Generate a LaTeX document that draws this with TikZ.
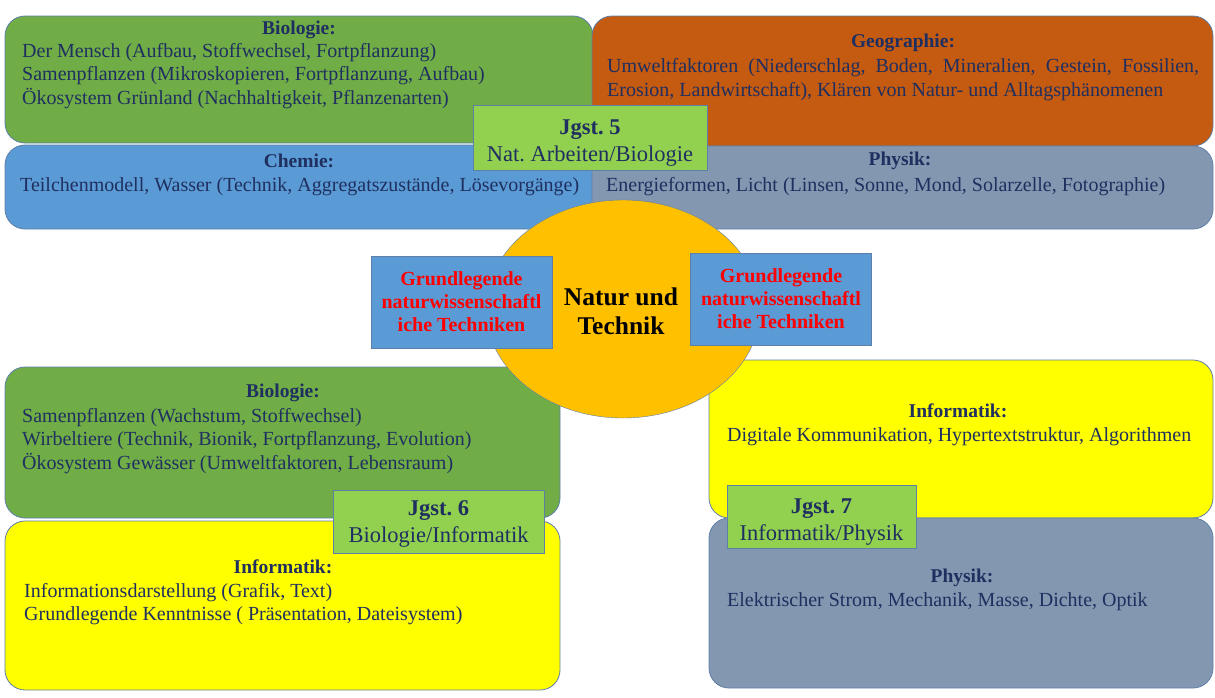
\documentclass[tikz,border=0pt]{standalone}
\usepackage{fontspec}
\setmainfont{Liberation Serif}
\usetikzlibrary{positioning,shapes.geometric}
\definecolor{biogruen}{HTML}{70AD47}
\definecolor{georot}{HTML}{C55A11}
\definecolor{chemblau}{HTML}{5B9BD5}
\definecolor{physgrau}{HTML}{8497B0}
\definecolor{kreisgelb}{HTML}{FFC000}
\definecolor{infogelb}{HTML}{FFFF00}
\definecolor{jgstgruen}{HTML}{92D050}
\definecolor{schrift}{HTML}{1F2F5F}
\definecolor{rand}{HTML}{5E7FA8}
\frenchspacing
\begin{document}
\begin{tikzpicture}[x=1pt,y=-1pt,
    fach/.style={draw=rand, line width=0.8pt, rounded corners=20pt, inner sep=0pt},
    titel/.style={text=schrift, font=\fontsize{19.5}{22}\selectfont\bfseries, inner sep=0pt},
    liste/.style={text=schrift, font=\fontsize{20}{23.5}\selectfont, align=left, inner sep=0pt, anchor=west},
    jgst/.style={draw=rand, fill=jgstgruen, inner sep=0pt},
    jgsttext/.style={text=schrift, font=\fontsize{22.5}{27}\selectfont, align=center, inner sep=0pt},
    technik/.style={draw=rand, fill=chemblau, text=red, font=\fontsize{20}{23}\selectfont\bfseries, align=center, inner sep=0pt, minimum width=181, minimum height=92}]
    \useasboundingbox (0,0) rectangle (1215,697);
    % Jgst. 5
    \node[fach, fill=biogruen, minimum width=588, minimum height=127] (bio5) at (299,79.5) {};
    \node[fach, fill=chemblau, minimum width=591, minimum height=84] (chem5) at (300.5,187) {};
    \node[fach, fill=georot, minimum width=621, minimum height=130] (geo5) at (902.5,81) {};
    \node[fach, fill=physgrau, minimum width=621, minimum height=83] (phys5) at (902.5,187.5) {};
    \node[titel] (bio5t) at (299,29.5) {Biologie:};
    \node[liste] (bio5l) at (22,76) {Der Mensch (Aufbau, Stoffwechsel, Fortpflanzung)\\
        Samenpflanzen (Mikroskopieren, Fortpflanzung, Aufbau)\\
        Ökosystem Grünland (Nachhaltigkeit, Pflanzenarten)};
    \node[titel] (geo5t) at (903,43) {Geographie:};
    \node[liste, text width=592, align=justify] (geo5l) at (607,79.5) {Umweltfaktoren (Niederschlag, Boden, Mineralien, Gestein, Fossilien, Erosion, Landwirtschaft), Klären von Natur- und Alltagsphänomenen};
    \node[titel] (chem5t) at (299,161) {Chemie:};
    \node[liste] (chem5l) at (20,187) {Teilchenmodell, Wasser (Technik, Aggregatszustände, Lösevorgänge)};
    \node[titel] (phys5t) at (900,161) {Physik:};
    \node[liste] (phys5l) at (606,187) {Energieformen, Licht (Linsen, Sonne, Mond, Solarzelle, Fotographie)};
    % Jgst. 6
    \node[fach, fill=biogruen, minimum width=555, minimum height=151] (bio6) at (282.5,442.5) {};
    \node[fach, fill=infogelb, minimum width=555, minimum height=169] (info6) at (282.5,605.5) {};
    \node[titel] (bio6t) at (283,393) {Biologie:};
    \node[liste] (bio6l) at (22,441) {Samenpflanzen (Wachstum, Stoffwechsel)\\
        Wirbeltiere (Technik, Bionik, Fortpflanzung, Evolution)\\
        Ökosystem Gewässer (Umweltfaktoren, Lebensraum)};
    \node[titel] (info6t) at (283,567) {Informatik:};
    \node[liste] (info6l) at (24,604) {Informationsdarstellung (Grafik, Text)\\
        Grundlegende Kenntnisse ( Präsentation, Dateisystem)};
    % Jgst. 7
    \node[fach, fill=infogelb, minimum width=504, minimum height=158] (info7) at (961,439) {};
    \node[fach, fill=physgrau, minimum width=504, minimum height=170] (phys7) at (961,603) {};
    \node[titel] (info7t) at (958,411) {Informatik:};
    \node[liste] (info7l) at (727,437) {Digitale Kommunikation, Hypertextstruktur, Algorithmen};
    \node[titel] (phys7t) at (962,578) {Physik:};
    \node[liste] (phys7l) at (727,602) {Elektrischer Strom, Mechanik, Masse, Dichte, Optik};
    % Mitte
    \node[ellipse, draw=rand, fill=kreisgelb, minimum width=274, minimum height=218, inner sep=0pt] (nt) at (623,309) {};
    \node[font=\fontsize{25.5}{29}\selectfont\bfseries, align=center, inner sep=0pt] (ntt) at (621,311.5) {Natur und\\Technik};
    \node[technik] (techl) at (461.5,302) {Grundlegende\\naturwissenschaftl\\iche Techniken};
    \node[technik] (techr) at (781,299) {Grundlegende\\naturwissenschaftl\\iche Techniken};
    \node[jgst, minimum width=234, minimum height=65] (jg5) at (590,137.5) {};
    \node[jgsttext] (jg5t) at (590,143.5) {\textbf{Jgst. 5}\\Nat. Arbeiten/Biologie};
    \node[jgst, minimum width=211, minimum height=63] (jg6) at (438.5,521.5) {};
    \node[jgsttext] (jg6t) at (438.5,524) {\textbf{Jgst. 6}\\Biologie/Informatik};
    \node[jgst, minimum width=189, minimum height=63] (jg7) at (821.5,516.5) {};
    \node[jgsttext] (jg7t) at (821.5,522) {\textbf{Jgst. 7}\\Informatik/Physik};
\end{tikzpicture}
\end{document}
